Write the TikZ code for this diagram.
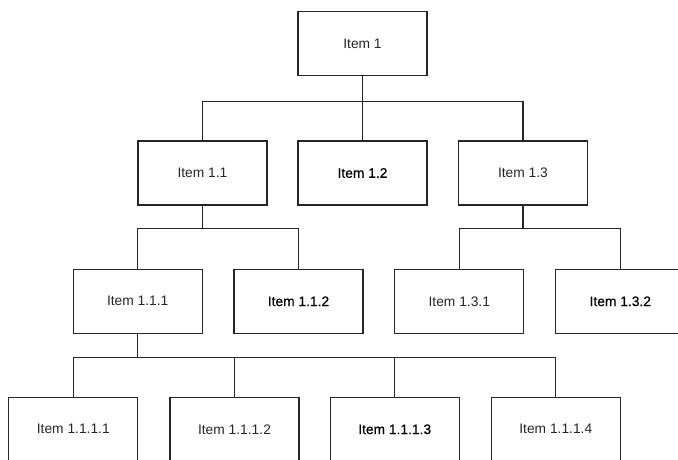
\documentclass[tikz,border=0pt]{standalone}
\usepackage{fontspec}
\setmainfont{Liberation Sans}
\begin{document}
\begin{tikzpicture}[x=1pt,y=1pt,
  itembox/.style={draw=black!85, line width=1.1pt, fill=white, minimum width=129pt, minimum height=64pt,
    inner sep=0pt, font=\fontsize{13.8}{16}\selectfont, text=black!85},
  strong/.style={text=black, font=\fontsize{13.8}{16}\selectfont\addfontfeatures{FakeBold=0.6}},
  link/.style={draw=black!85, line width=1.1pt}]
\useasboundingbox (0,0) rectangle (678,-459);
\clip (0,0) rectangle (678,-459);
% row 1
\node[itembox] (i1) at (362.5,-43.5) {Item 1};
% row 2
\node[itembox] (i11) at (202.5,-173) {Item 1.1};
\node[itembox,strong] (i12) at (362.5,-173) {Item 1.2};
\node[itembox] (i13) at (523,-173) {Item 1.3};
% row 3
\node[itembox] (i111) at (137.7,-301.3) {Item 1.1.1};
\node[itembox,strong] (i112) at (298.5,-301.3) {Item 1.1.2};
\node[itembox] (i131) at (459.3,-301.3) {Item 1.3.1};
\node[itembox,strong] (i132) at (620.3,-301.3) {Item 1.3.2};
% row 4
\node[itembox] (i1111) at (73.3,-429.3) {Item 1.1.1.1};
\node[itembox] (i1112) at (234.5,-429.3) {Item 1.1.1.2};
\node[itembox,strong] (i1113) at (394.7,-429.3) {Item 1.1.1.3};
\node[itembox] (i1114) at (555.8,-429.3) {Item 1.1.1.4};
% connectors
\coordinate (b1) at ([yshift=-25pt]i1.south);
\coordinate (b11) at ([yshift=-22.5pt]i11.south);
\coordinate (b13) at ([yshift=-22.5pt]i13.south);
\coordinate (b111) at ([yshift=-24pt]i111.south);
\foreach \c in {i11,i12,i13} \draw[link] (i1.south) -- (b1) -| (\c.north);
\foreach \c in {i111,i112} \draw[link] (i11.south) -- (b11) -| (\c.north);
\foreach \c in {i131,i132} \draw[link] (i13.south) -- (b13) -| (\c.north);
\foreach \c in {i1111,i1112,i1113,i1114} \draw[link] (i111.south) -- (b111) -| (\c.north);
\end{tikzpicture}
\end{document}
